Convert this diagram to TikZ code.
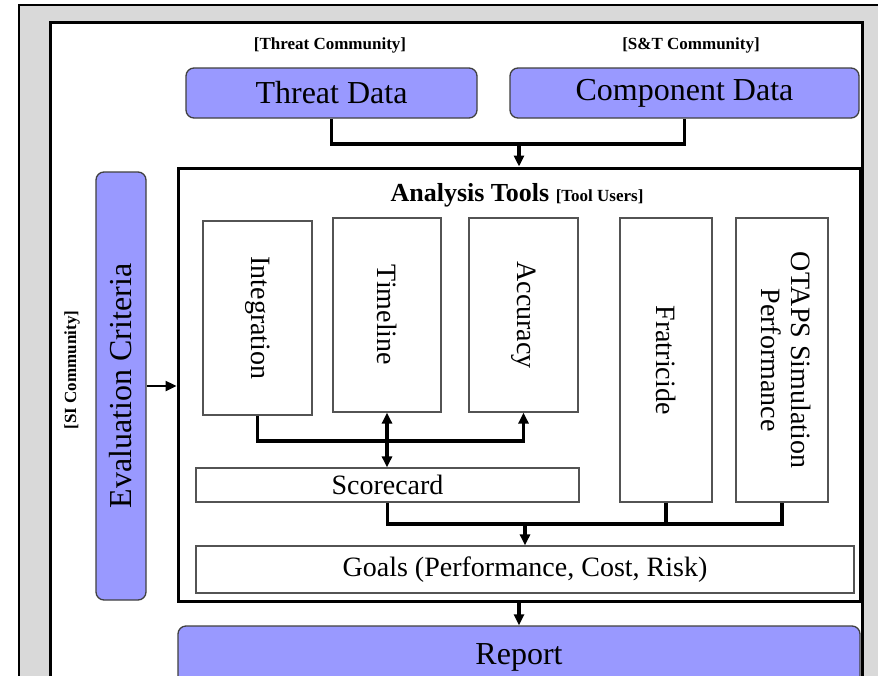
\documentclass[tikz,border=0pt]{standalone}
\usepackage{fontspec}
\setmainfont{Liberation Serif}
\usetikzlibrary{arrows.meta, positioning, calc}
\definecolor{PanelGrey}{HTML}{D9D9D9}
\definecolor{BoxBlue}{HTML}{9999FF}
\definecolor{EdgeGrey}{HTML}{404040}
\tikzset{
  bbox/.style={draw=EdgeGrey, line width=1.3pt, rounded corners=8pt, fill=BoxBlue,
    inner sep=0pt, font=\fontsize{32}{36}\selectfont},
  wbox/.style={draw=EdgeGrey!90, line width=1.2pt, fill=white, inner sep=0pt,
    font=\fontsize{28}{30}\selectfont},
  comm/.style={inner sep=0pt, font=\fontsize{17}{19}\selectfont\bfseries},
  link/.style={line width=3.2pt},
  flow/.style={-{Triangle[length=11pt,width=10pt]}, line width=3.2pt},
  flowb/.style={{Triangle[length=11pt,width=10pt]}-{Triangle[length=11pt,width=10pt]}, line width=3.2pt},
}

\begin{document}
\begin{tikzpicture}[x=1pt, y=-1pt]
    \clip (0,0) rectangle (878,675);
    % panels
    \fill[PanelGrey] (19,5) rectangle (882,682);
    \draw[line width=2pt] (19,682) -- (19,5) -- (882,5);
    \draw[line width=3pt, fill=white] (50,682) -- (50,22) -- (862,22) -- (862,682);

    % who supplies what
    \node[comm] (tcom) at (330,45) {[Threat Community]};
    \node[comm] (scom) at (691,45) {[S\&T Community]};
    \node[comm, rotate=90] (sicom) at (72,370) {[SI Community]};

    \node[bbox, minimum width=291pt, minimum height=50pt] (threat) at (331.5,93) {Threat Data};
    \node[bbox, minimum width=349pt, minimum height=50pt] (comp) at (684.5,93) {Component Data};
    \node[bbox, minimum width=50pt, minimum height=428pt] (eval) at (121,386) {\rotatebox{90}{Evaluation Criteria}};

    % analysis block
    \node[draw, line width=3pt, inner sep=0pt, minimum width=682pt, minimum height=433pt] (tools) at (519,384.5) {};
    \node[inner sep=0pt] (title) at (517,195)
      {\fontsize{26}{28}\selectfont\bfseries Analysis Tools {\fontsize{17}{19}\selectfont[Tool Users]}};

    \node[wbox, minimum width=109pt, minimum height=194pt] (integ) at (257.5,318) {\rotatebox{-90}{Integration}};
    \node[wbox, minimum width=108pt, minimum height=194pt] (tline) at (387,315) {\rotatebox{-90}{Timeline}};
    \node[wbox, minimum width=109pt, minimum height=194pt] (acc) at (523.5,315) {\rotatebox{-90}{Accuracy}};
    \node[wbox, minimum width=92pt, minimum height=284pt] (frat) at (666,360) {\rotatebox{-90}{Fratricide}};
    \node[wbox, minimum width=92pt, minimum height=284pt] (otaps) at (782,360)
      {\rotatebox{-90}{\begin{tabular}{@{}c@{}}OTAPS Simulation\\Performance\end{tabular}}};
    \node[wbox, minimum width=383pt, minimum height=34pt] (score) at (387.5,485) {Scorecard};
    \node[wbox, minimum width=658pt, minimum height=47pt] (goals) at (525,569.5) {Goals (Performance, Cost, Risk)};

    \node[bbox, minimum width=682pt, minimum height=62pt] (report) at (519,657) {Report};

    % connectors
    \coordinate (tjoin) at (519,144);
    \draw[link] (threat.south) |- (tjoin) -| (comp.south);
    \draw[flow] (tjoin) -- (tjoin |- tools.north);
    \draw[flow, line width=2.4pt] (eval.east) -- (eval.east -| tools.west);

    \coordinate (mjoin) at (387,441);
    \draw[flow] (integ.south) |- (mjoin) -| (acc.south);
    \draw[flowb] (tline.south) -- (tline.south |- score.north);

    \coordinate (bjoin) at (525,524);
    \draw[link] (score.south) |- (bjoin) -| (otaps.south);
    \draw[link] (frat.south) -- (frat.south |- bjoin);
    \draw[flow] (bjoin) -- (goals.north);

    \draw[flow] (tools.south -| report.north) -- (report.north);
\end{tikzpicture}
\end{document}
